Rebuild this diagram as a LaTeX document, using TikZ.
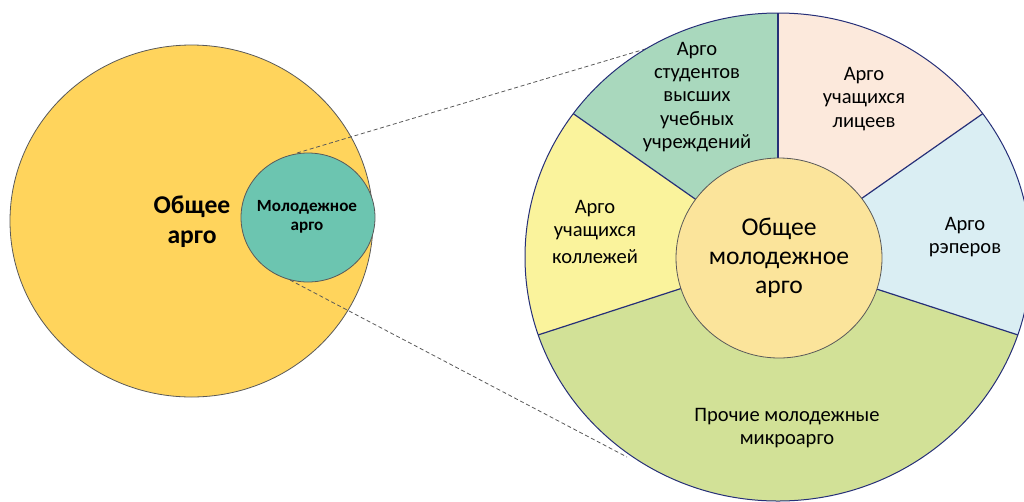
\documentclass[tikz,border=0pt]{standalone}
\usepackage{fontspec}
\setmainfont{Carlito}
\definecolor{cGold}{HTML}{FFD45C}
\definecolor{cTeal}{HTML}{6CC5B0}
\definecolor{cGreen}{HTML}{A9D8BD}
\definecolor{cPeach}{HTML}{FCE9DC}
\definecolor{cBlue}{HTML}{DAEEF3}
\definecolor{cYellow}{HTML}{FAF39C}
\definecolor{cLime}{HTML}{D2E197}
\definecolor{cInner}{HTML}{FBE49B}
\definecolor{cNavy}{HTML}{262F78}
\definecolor{cGray}{HTML}{595959}
\begin{document}
\begin{tikzpicture}[x=0.75pt,y=-0.75pt,
  lbl/.style={align=center,text=black,inner sep=0pt},
  rlbl/.style={lbl,font=\fontsize{15.4}{17.5}\selectfont},
  divider/.style={draw=cNavy,line width=0.9pt},
  zoomline/.style={draw=cGray,line width=0.6pt,dash pattern=on 3pt off 2pt}]
\useasboundingbox (0,0) rectangle (1024,501);
\clip (0,0) rectangle (1024,501);
% left side
\coordinate (L) at (191.5,221);
\coordinate (T) at (308,217.5);
\fill[cGold,draw=cGray,line width=0.6pt] (L) ellipse [x radius=181.5,y radius=176];
\fill[cTeal,draw=cGray,line width=0.6pt] (T) ellipse [x radius=67,y radius=64.5];
\node[lbl,font=\fontsize{19.2}{22.5}\selectfont\bfseries] (gen) at (192,222) {Общее\\арго};
\node[lbl,font=\fontsize{12.8}{14.2}\selectfont\bfseries] (young) at (307,217) {Молодежное\\арго};
% zoom lines
\coordinate (z1a) at (297,153);
\coordinate (z1b) at (652,47);
\coordinate (z2a) at (290,280);
\coordinate (z2b) at (627,457);
\draw[zoomline] (z1a) -- (z1b);
\draw[zoomline] (z2a) -- (z2b);
% right side
\coordinate (C) at (778,257);
\begin{scope}
\clip (C) ellipse [x radius=253,y radius=244];
\fill[cPeach] (C) -- +(-90:500) -- +(-62:500) -- +(-35:500) -- cycle;
\fill[cGreen] (C) -- +(-90:500) -- +(-118:500) -- +(-145:500) -- cycle;
\fill[cYellow] (C) -- +(-145:500) -- +(-171:500) -- +(-198:500) -- cycle;
\fill[cBlue] (C) -- +(-35:500) -- +(-8:500) -- +(18:500) -- cycle;
\fill[cLime] (C) -- +(18:500) -- +(54:500) -- +(90:500) -- +(126:500) -- +(162:500) -- cycle;
\draw[divider] (C) -- +(-90:500);
\draw[divider] (C) -- +(-35:500);
\draw[divider] (C) -- +(-145:500);
\draw[divider] (C) -- +(18:500);
\draw[divider] (C) -- +(162:500);
\end{scope}
\draw[cNavy,line width=0.75pt] (C) ellipse [x radius=253,y radius=244];
\coordinate (I) at (779,258);
\fill[cInner,draw=cGray,line width=0.6pt] (I) ellipse [x radius=103,y radius=100];
\node[lbl,font=\fontsize{19.2}{22}\selectfont] (inner) at (779,258) {Общее\\молодежное\\арго};
\node[rlbl] (stud) at (697,97) {Арго\\студентов\\высших\\учебных\\учреждений};
\node[rlbl] (lyc) at (864,99) {Арго\\учащихся\\лицеев};
\node[rlbl] (rap) at (965,237) {Арго\\рэперов};
\node[rlbl] (coll) at (595,232) {Арго\\учащихся\\[3pt]коллежей};
\node[rlbl] (other) at (787,428) {Прочие молодежные\\микроарго};
\end{tikzpicture}
\end{document}
